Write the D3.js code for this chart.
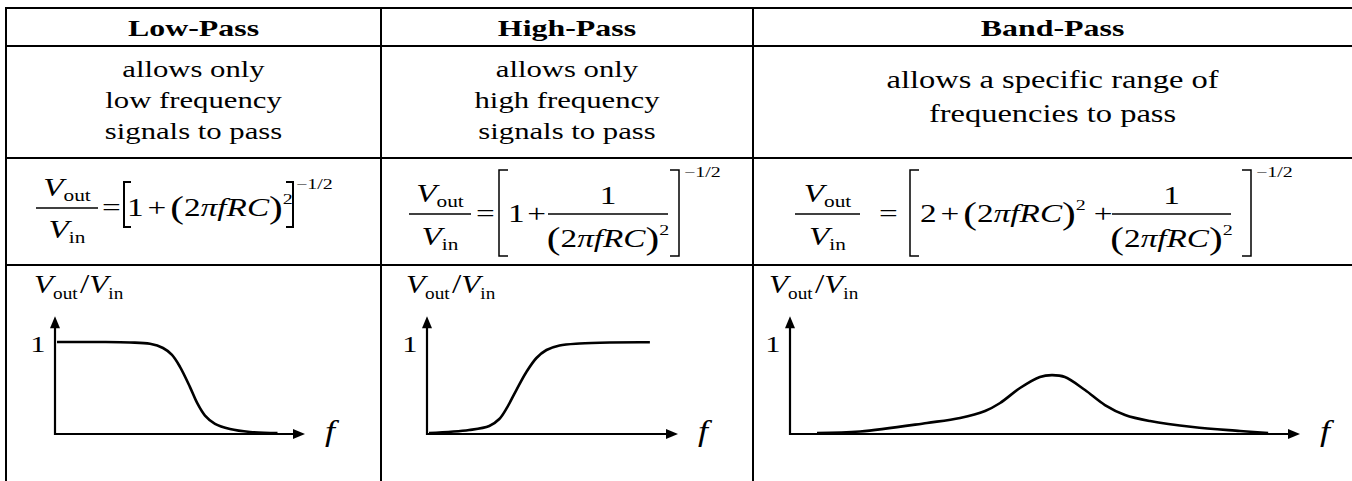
<!DOCTYPE html>
<html><head><meta charset="utf-8">
<script src="https://cdn.jsdelivr.net/npm/d3@7"></script>
<style>html,body{margin:0;padding:0;background:#fff;} svg{display:block;}</style>
</head><body>
<svg id="c" width="1352" height="481"></svg>
<script>
// ---------- data ----------
const filterNames = ["Low-Pass", "High-Pass", "Band-Pass"];
const descLow = ["allows only", "low frequency", "signals to pass"];
const descHigh = ["allows only", "high frequency", "signals to pass"];
const descBand = ["allows a specific range of", "frequencies to pass"];
const unityTick = "1";
const freqLabel = "f";
// response sketches: frequency (axis units) and Vout/Vin
const lowPassF    = [0.08, 1.8, 3.0, 3.8, 4.32, 4.68, 5.0, 5.4, 5.68, 6.0, 6.4, 7.0, 7.8, 8.9];
const lowPassGain = [1.0, 1.0, 0.995, 0.98, 0.935, 0.86, 0.73, 0.51, 0.34, 0.20, 0.11, 0.054, 0.022, 0.01];
const highPassF    = [0.08, 1.68, 2.48, 2.88, 3.2, 3.56, 3.96, 4.36, 4.76, 5.28, 6.08, 7.28, 8.88];
const highPassGain = [0.01, 0.043, 0.087, 0.163, 0.293, 0.478, 0.674, 0.826, 0.913, 0.962, 0.984, 0.995, 0.997];
const bandPassF    = [1.06, 2.75, 5.37, 6.67, 7.65, 8.24, 9.02, 9.8, 10.27, 10.78, 11.57, 12.35, 13.14, 14.12, 15.8, 17.65, 18.75];
const bandPassGain = [0.01, 0.027, 0.12, 0.174, 0.25, 0.337, 0.5, 0.62, 0.64, 0.62, 0.478, 0.315, 0.207, 0.141, 0.076, 0.033, 0.01];

// ---------- helpers ----------
const SX = 1.33;
const SERIF = "Liberation Serif, Times New Roman, serif";
const svg = d3.select("#c");

function run(x, y, parts, anchor, size, sx) {
  const t = svg.append("text")
    .attr("transform", `translate(${x},${y}) scale(${sx || SX},1)`)
    .attr("text-anchor", anchor || "start")
    .attr("font-family", SERIF).attr("font-size", size || 25).attr("fill", "#000");
  let cur = 0;
  parts.forEach(p => {
    if (typeof p === "string") p = { t: p };
    const ts = t.append("tspan").text(p.t);
    if (p.it) ts.attr("font-style", "italic");
    if (p.b) ts.attr("font-weight", "bold");
    if (p.s) ts.attr("font-size", p.s);
    const target = p.dy || 0;
    if (target !== cur) { ts.attr("dy", target - cur); cur = target; }
    if (p.dx) ts.attr("dx", p.dx);
  });
  return t;
}
function line(x1, y1, x2, y2, w) {
  svg.append("line").attr("x1", x1).attr("y1", y1).attr("x2", x2).attr("y2", y2)
    .attr("stroke", "#000").attr("stroke-width", w || 2);
}
function bracket(x, y1, y2, dir, serif, w) {
  svg.append("path")
    .attr("d", `M${x + dir * serif},${y1} H${x} V${y2} H${x + dir * serif}`)
    .attr("fill", "none").attr("stroke", "#000").attr("stroke-width", w || 1.6);
}
const Vout = [{ t: "V", it: true }, { t: "out", s: 16, dy: 5 }];
const Vin = [{ t: "V", it: true }, { t: "in", s: 16, dy: 5 }];
function fraction(x1, x2, yBar, num, den, numBase, denBase) {
  const cx = (x1 + x2) / 2;
  run(cx, yBar - numBase, num, "middle");
  line(x1, yBar, x2, yBar, 1.3);
  run(cx, yBar + denBase, den, "middle");
}
const tf = (lead) => [{ t: "(", s: 31, dy: 2, dx: lead || 0 }, { t: "2", dy: 0 }, { t: "π", it: true }, { t: "f", it: true },
            { t: "R", it: true }, { t: "C", it: true }, { t: ")", s: 31, dy: 2 }, { t: "2", s: 15, dy: -12 }];

// ---------- table grid ----------
const colEdges = [6, 381, 753, 1352];
const rowEdges = [8, 46, 158, 265];
rowEdges.forEach(y => line(colEdges[0] - 1, y, 1352, y, 2));
[6, 381, 753].forEach(x => line(x, rowEdges[0], x, 481, 2));
const colMid = i => (colEdges[i] + colEdges[i + 1]) / 2;

// header
filterNames.forEach((n, i) => run(colMid(i), 36, [{ t: n, b: true }], "middle", 24));

// descriptions
descLow.forEach((s, k) => run(colMid(0), 77 + k * 31, [s], "middle", 24, 1.28));
descHigh.forEach((s, k) => run(colMid(1), 77 + k * 31, [s], "middle", 24, 1.28));
descBand.forEach((s, k) => run(colMid(2), 88 + k * 34, [s], "middle", 25, 1.3));

// ---------- formulas ----------
// low-pass
{
  const yb = 208;
  fraction(36, 98, yb, Vout, Vin, 12, 30);
  run(102, yb + 8, ["="]);
  bracket(124, yb - 26, yb + 19, 1, 7, 2);
  run(127, yb + 8, ["1", { t: "+", dx: 3 }].concat(tf(3)));
  bracket(293, yb - 26, yb + 19, -1, 7, 2);
  run(296, yb - 19, ["−1/2"], "start", 15);
}
// high-pass
{
  const yb = 214;
  fraction(409, 471, yb, Vout, Vin, 12, 31);
  run(476, yb + 8, ["="]);
  bracket(499, 170, 256, 1, 9, 1.5);
  run(508, yb + 8, ["1", { t: "+", dx: 2 }]);
  fraction(548, 668, yb, ["1"], tf(0), 10, 33);
  bracket(679, 170, 256, -1, 9, 1.5);
  run(684, 177, ["−1/2"], "start", 15);
}
// band-pass
{
  const yb = 214;
  fraction(795, 860, yb, Vout, Vin, 12, 31);
  run(879, yb + 8, ["="]);
  bracket(910, 170, 256, 1, 9, 1.5);
  run(920, yb + 8, ["2", { t: "+", dx: 3 }].concat(tf(3)).concat([{ t: "+", dx: 6, dy: 0 }]));
  fraction(1112, 1231, yb, ["1"], tf(0), 10, 33);
  bracket(1251, 170, 256, -1, 9, 1.5);
  run(1256, 177, ["−1/2"], "start", 15);
}

// ---------- plots ----------
const panels = [
  { ax: 55, tip: 305, dom: [0, 10], f: lowPassF, g: lowPassGain },
  { ax: 427, tip: 678, dom: [0, 10], f: highPassF, g: highPassGain },
  { ax: 790, tip: 1300, dom: [0, 20], f: bandPassF, g: bandPassGain }
];
panels.forEach(p => {
  const x = d3.scaleLinear().domain(p.dom).range([p.ax, p.tip]);
  const y = d3.scaleLinear().domain([0, 1]).range([434, 342]);
  const y0 = y(0), yTop = y(1.28);
  line(p.ax, y0 + 1, p.ax, yTop + 10, 2.2);
  line(p.ax - 1, y0, p.tip - 10, y0, 2.2);
  svg.append("path").attr("d", `M${p.ax},${yTop} L${p.ax - 5},${yTop + 12} L${p.ax + 5},${yTop + 12} Z`).attr("fill", "#000");
  svg.append("path").attr("d", `M${p.tip},${y0} L${p.tip - 12},${y0 - 5} L${p.tip - 12},${y0 + 5} Z`).attr("fill", "#000");
  run(p.ax - 21, 293, [{ t: "V", it: true }, { t: "out", s: 16, dy: 6 }, { t: "/", s: 28, dy: 0, dx: 2 },
                       { t: "V", it: true }, { t: "in", s: 16, dy: 6 }], "start", 26, 1.2);
  run(p.ax - 17, 352, [unityTick], "middle", 23);
  run(p.tip + 20, 441, [{ t: freqLabel, it: true }], "start", 30, 1.2);
  const pts = p.f.map((v, i) => [v, p.g[i]]);
  svg.append("path").datum(pts)
    .attr("d", d3.line().x(d => x(d[0])).y(d => y(d[1])).curve(d3.curveCatmullRom.alpha(0.5)))
    .attr("fill", "none").attr("stroke", "#000").attr("stroke-width", 2.6);
});
</script>
</body></html>
